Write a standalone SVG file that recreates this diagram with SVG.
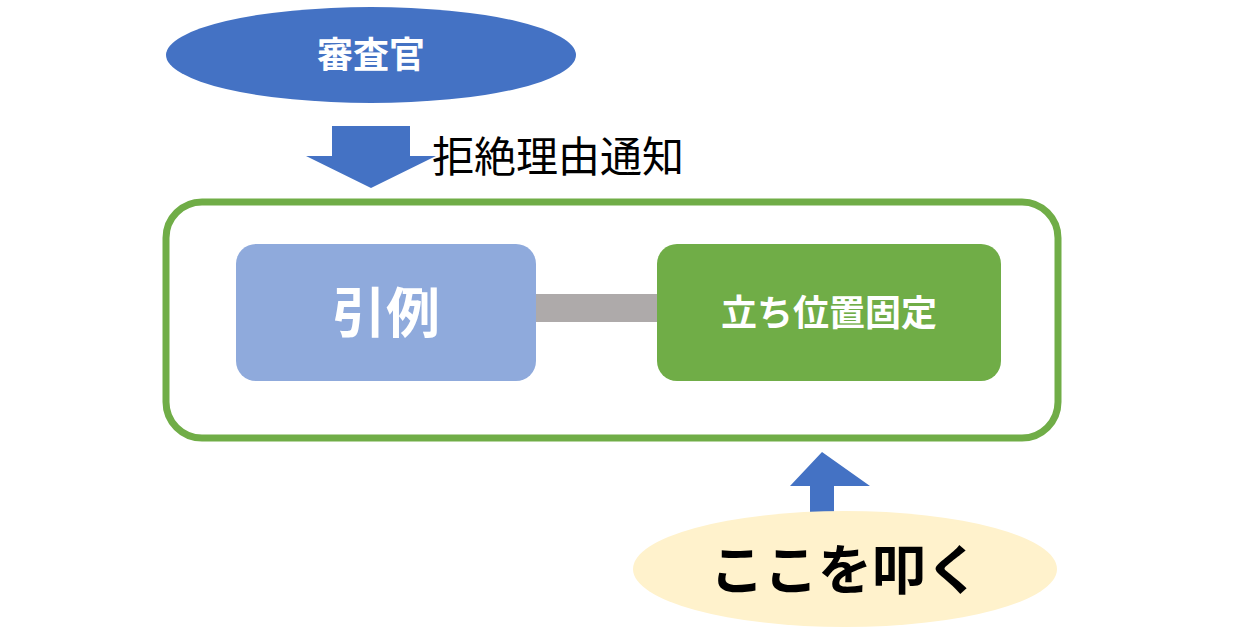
<svg xmlns="http://www.w3.org/2000/svg" width="1260" height="633" viewBox="0 0 1260 633">
<style>
.w{fill:#fff;font-family:"Noto Sans CJK JP",sans-serif;font-weight:bold}
.b{fill:#000;font-family:"Noto Sans CJK JP",sans-serif}
</style>
<rect width="1260" height="633" fill="#fff"/>
<g id="connectors">
<rect x="536" y="294" width="122" height="28" fill="#aeaaaa"/>
<polygon points="332,126 410,126 410,156 436,156 371,188 306,156 332,156" fill="#4472c4" transform="translate(0,0)"/>
<polygon points="810,520 834,520 834,486 870,486 822,452 790,486 810,486" fill="#4472c4"/>
</g>
<g id="n-shinsakan"><ellipse cx="371" cy="55" rx="205" ry="48" fill="#4472c4"/><text class="w" x="371" y="68" font-size="36" text-anchor="middle">審査官</text></g>
<text class="b" x="432" y="172" font-size="42">拒絶理由通知</text>
<g id="n-frame"><rect x="166" y="202" width="892" height="236" rx="36" fill="none" stroke="#70ad47" stroke-width="7"/></g>
<g id="n-inrei"><rect x="236" y="244" width="300" height="137" rx="20" fill="#8faadc"/><text class="w" x="386" y="333" font-size="54" text-anchor="middle">引例</text></g>
<g id="n-tachi"><rect x="657" y="244" width="344" height="137" rx="20" fill="#70ad47"/><text class="w" x="829" y="326" font-size="36" text-anchor="middle">立ち位置固定</text></g>
<g id="n-koko"><ellipse cx="845" cy="569" rx="212" ry="58" fill="#fff2cc"/><text class="b" x="845" y="590" font-size="54" font-weight="bold" text-anchor="middle">ここを叩く</text></g>
</svg>
